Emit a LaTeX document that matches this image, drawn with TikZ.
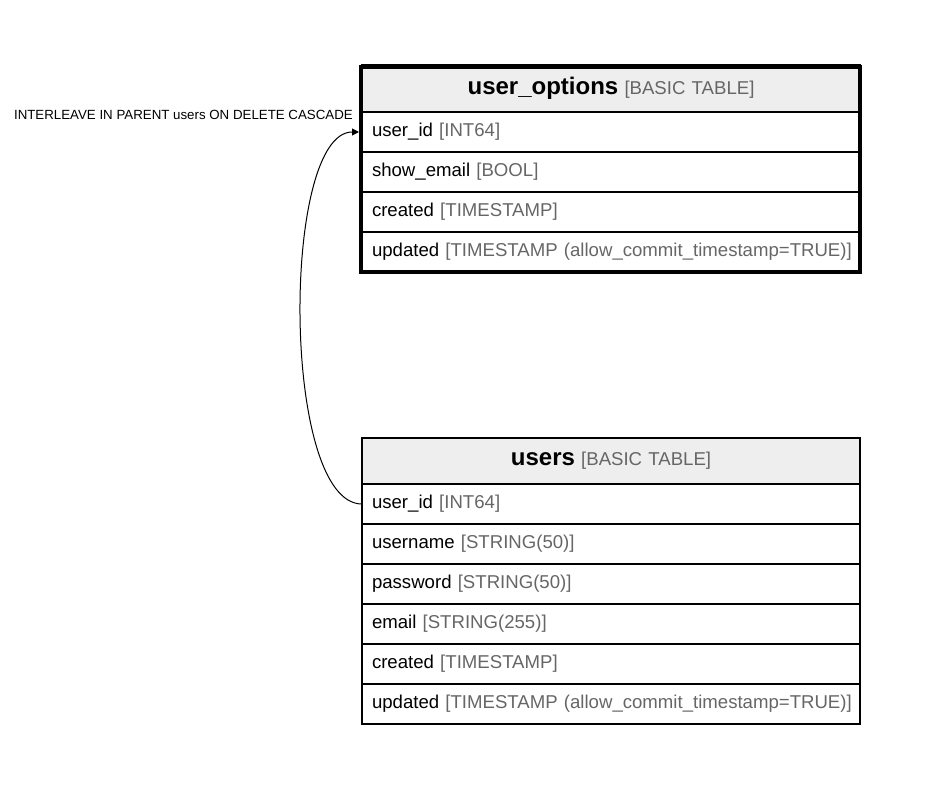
\documentclass[tikz,border=0pt]{standalone}
\usepackage{fontspec}
\setmainfont{Liberation Sans}
\usetikzlibrary{arrows.meta}
\definecolor{hdrfill}{HTML}{EEEEEE}
\definecolor{typegray}{HTML}{666666}
\newcommand{\ty}[1]{{\color{typegray}#1}}
\newcommand{\hd}[1]{{\fontsize{24}{28}\selectfont\bfseries #1}}
\tikzset{
  tblrow/.style={draw=black, line width=1.2pt, anchor=north west, minimum height=40pt,
    text width=478pt, inner xsep=10pt, inner ysep=0pt, outer sep=0pt, align=left,
    font=\fontsize{18.6}{22}\selectfont},
  tblhead/.style={tblrow, fill=hdrfill, align=center},
  outerbox/.style={draw=black, line width=4pt, anchor=north west, inner sep=0pt, outer sep=0pt},
  lbl/.style={font=\fontsize{13.3}{16}\selectfont, inner sep=0pt}
}
\begin{document}
\begin{tikzpicture}[x=1pt,y=-1pt]
\useasboundingbox (0,0) rectangle (926,787);
% user_options
\node[tblhead, minimum height=47pt] (oh) at (362,65) {\mbox{\hd{user\_options} \ty{[BASIC TABLE]}}};
\node[tblrow] (o1) at (362,112) {\mbox{user\_id \ty{[INT64]}}};
\node[tblrow] (o2) at (362,152) {\mbox{show\_email \ty{[BOOL]}}};
\node[tblrow] (o3) at (362,192) {\mbox{created \ty{[TIMESTAMP]}}};
\node[tblrow] (o4) at (362,232) {\mbox{updated \ty{[TIMESTAMP (allow\_commit\_timestamp=TRUE)]}}};
\node[outerbox, minimum width=499pt, minimum height=205pt] (uo) at (361,67) {};
% users
\node[tblhead, minimum height=46pt] (uh) at (362,438) {\mbox{\hd{users} \ty{[BASIC TABLE]}}};
\node[tblrow] (u1) at (362,484) {\mbox{user\_id \ty{[INT64]}}};
\node[tblrow] (u2) at (362,524) {\mbox{username \ty{[STRING(50)]}}};
\node[tblrow] (u3) at (362,564) {\mbox{password \ty{[STRING(50)]}}};
\node[tblrow] (u4) at (362,604) {\mbox{email \ty{[STRING(255)]}}};
\node[tblrow] (u5) at (362,644) {\mbox{created \ty{[TIMESTAMP]}}};
\node[tblrow] (u6) at (362,684) {\mbox{updated \ty{[TIMESTAMP (allow\_commit\_timestamp=TRUE)]}}};
% connector
\coordinate (tipend) at ([xshift=-2pt]uo.west |- o1.west);
\draw[line width=1pt, -{Triangle[length=7pt,width=7pt]}]
  (u1.west) .. controls (281,504) and (281,132) .. (tipend);
\node[lbl, anchor=east] (lab) at (353,115) {INTERLEAVE IN PARENT users ON DELETE CASCADE};
\end{tikzpicture}
\end{document}
